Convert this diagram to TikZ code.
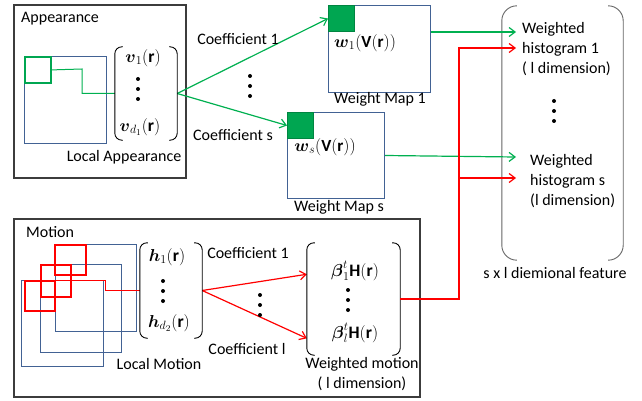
\documentclass[tikz,border=0pt]{standalone}
\usepackage{fontspec}
\setmainfont{Carlito}
\usepackage{amsmath}
\usetikzlibrary{arrows.meta, positioning, calc}
\definecolor{LineGreen}{RGB}{0, 176, 80}
\definecolor{PatchGreen}{RGB}{0, 166, 81}
\definecolor{WinBlue}{RGB}{66, 98, 148}
\definecolor{FrameGray}{RGB}{60, 60, 60}
\definecolor{BracketGray}{RGB}{100, 100, 100}

\begin{document}
\begin{tikzpicture}[
    x=1pt, y=-1pt,
    frame/.style={draw=FrameGray, line width=1.3pt},
    lbl/.style={font=\fontsize{16}{20}\selectfont, inner sep=0pt},
    mth/.style={font=\fontsize{17.5}{22}\selectfont, inner sep=0pt},
    mapmth/.style={font=\fontsize{17}{18}\selectfont, inner sep=0pt},
    win/.style={draw=WinBlue, line width=1.3pt, anchor=north west, inner sep=0pt},
    mapbox/.style={draw=WinBlue, line width=1pt, anchor=north west, inner sep=0pt},
    gpatch/.style={draw=PatchGreen!80!black, fill=PatchGreen, line width=1pt, minimum size=26pt, anchor=north west, inner sep=0pt},
    rpatch/.style={draw=red, line width=1.5pt, minimum size=30pt, anchor=north west, inner sep=0pt},
    vecbox/.style={inner sep=0pt},
    paren/.style={line width=0.9pt, rounded corners=7pt},
    gline/.style={LineGreen, line width=1.2pt},
    rline/.style={red, line width=1.2pt},
    garrow/.style={gline, -{Straight Barb[length=6pt, width=9pt]}},
    rarrow/.style={rline, -{Straight Barb[length=6pt, width=9pt]}}
  ]
    \useasboundingbox (0,0) rectangle (642,401);

    % Appearance
    \draw[frame] (14,5) rectangle (186,178);
    \node[lbl, anchor=west] (apptitle) at (21,19) {Appearance};
    \node[win, minimum width=82, minimum height=87] (awin) at (24,56) {};
    \node[gpatch, fill=none, draw=PatchGreen, line width=1.8pt] (apatch) at (24,56) {};
    \node[vecbox, minimum width=62, minimum height=93] (vvec) at (146,93.5) {};
    \node[mth] (vone) at (143,58) {$\boldsymbol{v}_1(\mathbf{r})$};
    \coordinate (vdots) at (138,89);
    \node[mth] (vd) at (140,127) {$\boldsymbol{v}_{d_1}(\mathbf{r})$};
    \node[lbl] (localapp) at (124,157) {Local Appearance};
    \coordinate (gbend) at (82,69);
    \draw[gline, line width=1pt] (apatch.east) -- (gbend) |- (vvec.west);

    % Weight maps
    \node[mapbox, minimum width=102, minimum height=87] (wmapone) at (328,5) {};
    \node[gpatch] (patchone) at (328,5) {};
    \node[mapmth] (wone) at (365,43) {$\boldsymbol{w}_1(\mathbf{V}(\mathbf{r}))$};
    \node[lbl] (wmaponelbl) at (380,99) {Weight Map 1};
    \node[mapbox, minimum width=97, minimum height=86] (wmaps) at (287,112) {};
    \node[gpatch] (patchs) at (287,112) {};
    \node[mapmth] (ws) at (325,147) {$\boldsymbol{w}_s(\mathbf{V}(\mathbf{r}))$};
    \node[lbl] (wmapslbl) at (339,207) {Weight Map s};

    % Coefficients (appearance)
    \draw[garrow] (vvec.east) -- (patchone.west);
    \draw[garrow] (vvec.east) -- (patchs.west);
    \node[lbl] (coefone) at (238,39) {Coefficient 1};
    \node[lbl] (coefs) at (233,135) {Coefficient s};
    \coordinate (cdots) at (250,86);

    % Feature
    \node[vecbox, minimum width=121, minimum height=254] (feat) at (562.5,133) {};
    \draw[paren, draw=BracketGray, rounded corners=15pt] ([xshift=14pt]feat.north west) -- (feat.north west) -- (feat.south west) -- ([xshift=14pt]feat.south west);
    \draw[paren, draw=BracketGray, rounded corners=15pt] ([xshift=-14pt]feat.north east) -- (feat.north east) -- (feat.south east) -- ([xshift=-14pt]feat.south east);
    \node[lbl, anchor=west, align=left] (histone) at (522,49) {Weighted\\histogram 1\\( l dimension)};
    \coordinate (hdots) at (554,111);
    \node[lbl, anchor=west, align=left] (hists) at (530,181) {Weighted\\histogram s\\(l dimension)};
    \node[lbl] (featlbl) at (555,273) {s x l diemional feature};
    \coordinate (histonegreen) at (516,32);
    \coordinate (histonered) at (516,48);
    \coordinate (histsgreen) at (516,157);
    \coordinate (histsred) at (516,178);
    \coordinate (redbus) at (459,48);
    \draw[garrow] (wmapone.east |- patchone.south) -- (histonegreen);
    \draw[garrow] (wmaps.east) -- (histsgreen);

    % Motion
    \draw[frame] (14,219) rectangle (420,397);
    \node[lbl, anchor=west] (motitle) at (26,232) {Motion};
    \foreach \i/\wx/\wy/\ww/\wh in {1/55/244/81/87, 2/40/264/81/88, 3/21/280/82/86}
      \node[win, minimum width=\ww, minimum height=\wh] (mwin\i) at (\wx,\wy) {};
    \foreach \i/\px/\py/\pw/\ph in {1/54/244/31/30, 2/40/264/30/32, 3/24/280/30/30}
      \node[rpatch, minimum width=\pw, minimum height=\ph] (mpatch\i) at (\px,\py) {};
    \node[vecbox, minimum width=62, minimum height=95] (hvec) at (171,290.5) {};
    \node[mth] (hone) at (167,257) {$\boldsymbol{h}_1(\mathbf{r})$};
    \coordinate (hvdots) at (163,291);
    \node[mth] (hd) at (169,323) {$\boldsymbol{h}_{d_2}(\mathbf{r})$};
    \node[lbl] (localmo) at (159,364) {Local Motion};
    \coordinate (rbend) at (105,280);
    \draw[rline, line width=1pt] (mpatch3.north east) -- (rbend) |- (hvec.west);

    % Weighted motion
    \node[vecbox, minimum width=93, minimum height=112] (bvec) at (353.5,299) {};
    \node[mth] (bone) at (355,271) {$\boldsymbol{\beta}_1^t\mathbf{H}(\mathbf{r})$};
    \coordinate (bdots) at (348,300);
    \node[mth] (bl) at (355,333) {$\boldsymbol{\beta}_l^t\mathbf{H}(\mathbf{r})$};
    \node[lbl, align=center] (wmotion) at (362,374.5) {Weighted motion\\( l dimension)};
    \draw[rarrow] (hvec.east) -- ($(bvec.north west)!0.28!(bvec.south west)$);
    \draw[rarrow] (hvec.east) -- ($(bvec.north west)!0.85!(bvec.south west)$);
    \node[lbl] (mcoefone) at (248,253) {Coefficient 1};
    \node[lbl] (mcoefl) at (247,349) {Coefficient l};
    \coordinate (mcdots) at (260,305);

    % vertical dots
    \foreach \c in {vdots, cdots, hdots, hvdots, bdots, mcdots}
      \foreach \d in {-10, 0, 10}
        \fill ([yshift=\d pt]\c) circle (2pt);

    % brackets
    \foreach \n in {vvec, hvec, bvec} {
      \draw[paren] ([xshift=8pt]\n.north west) -- (\n.north west) -- (\n.south west) -- ([xshift=8pt]\n.south west);
      \draw[paren] ([xshift=-8pt]\n.north east) -- (\n.north east) -- (\n.south east) -- ([xshift=-8pt]\n.south east);
    }

    % Weighted motion -> histograms
    \draw[rarrow] (bvec.east) -- (redbus |- bvec.east) -- (redbus) -- (histonered);
    \draw[rarrow] (redbus |- histsred) -- (histsred);
\end{tikzpicture}
\end{document}
